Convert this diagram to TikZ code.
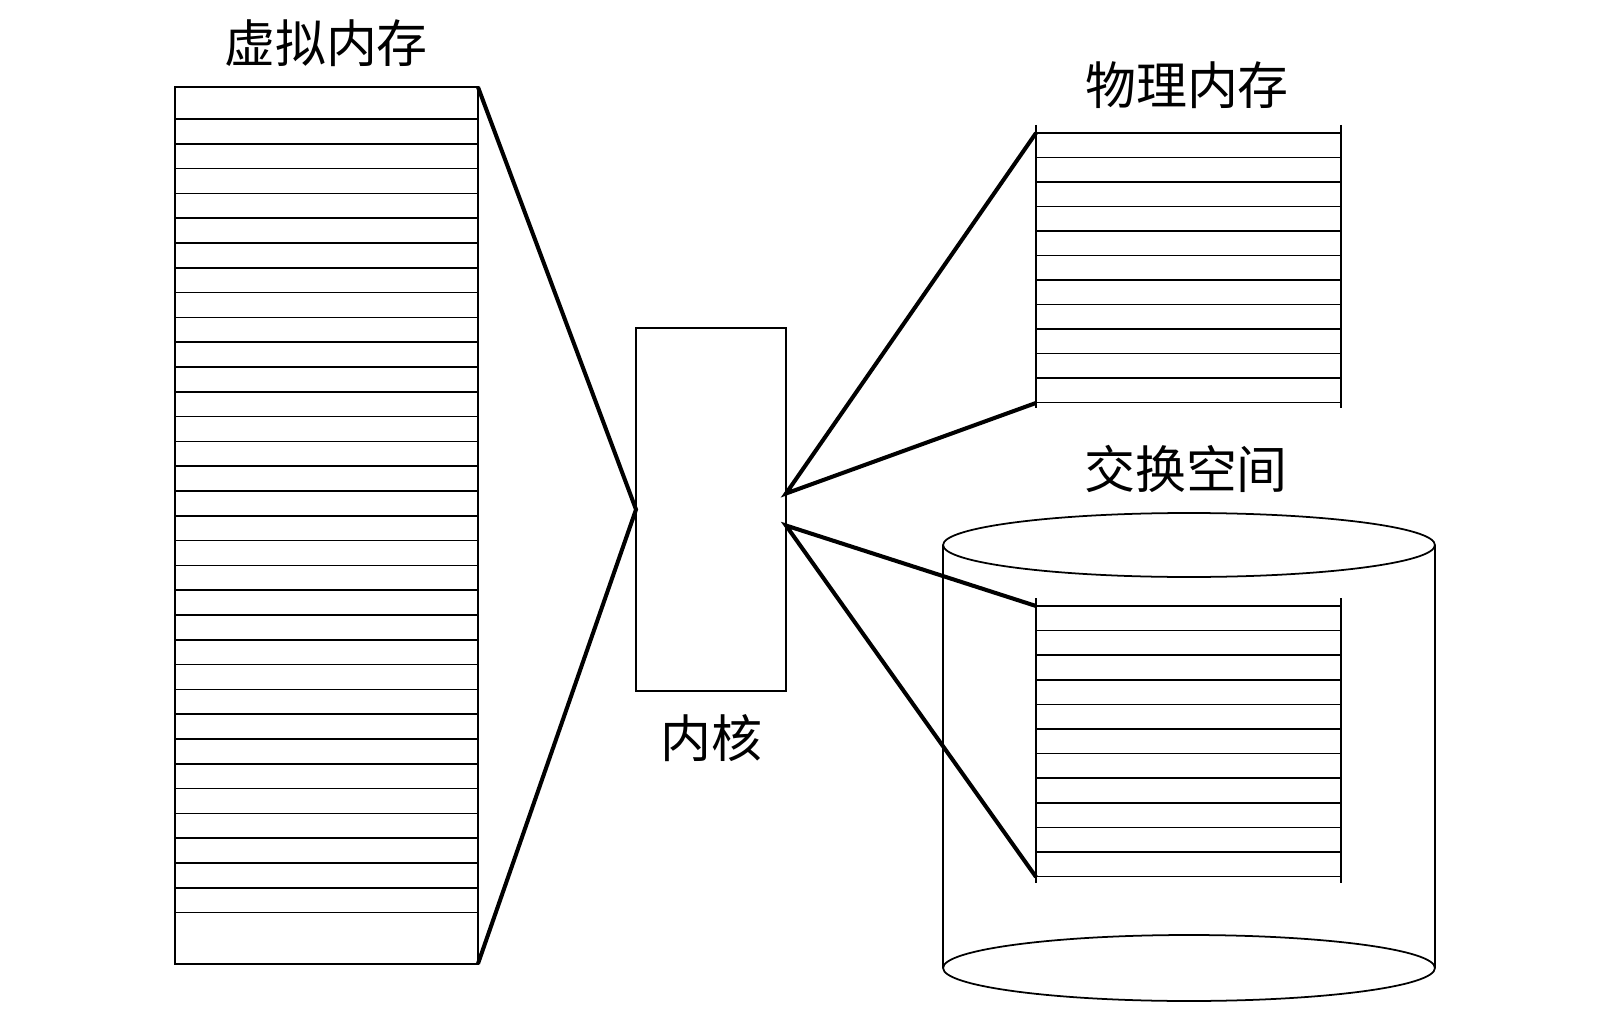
\documentclass[tikz,border=0pt]{standalone}
\usepackage{fontspec}
\newfontfamily\cjk{Noto Sans CJK SC}
\usetikzlibrary{positioning}
\tikzset{mem/.style={draw,line width=1.2pt,outer sep=0pt,inner sep=0pt,minimum width=6.06cm}}
\tikzset{slot/.style={line width=1pt}}
\tikzset{link/.style={line width=2.3pt,line join=miter}}
\tikzset{lbl/.style={font=\cjk\fontsize{29}{29}\selectfont,inner sep=0pt}}

\begin{document}
\begin{tikzpicture}[x=0.02cm,y=-0.02cm]
        \useasboundingbox (0,0) rectangle (1598,1020);
        \node[mem,minimum height=17.54cm,anchor=north west](vmem) at (175,87){};
        \foreach \i in {0,...,32}
          \draw[slot] (175,{119+24.8*\i}) -- (478,{119+24.8*\i});
        \node[mem,minimum width=3cm,minimum height=7.26cm](kernel) at (711,509.5){};
        \node[mem,draw=none,minimum width=6.1cm,minimum height=5.4cm,anchor=north west](phys) at (1036,133){};
        \foreach \i in {0,...,11}
          \draw[slot] (1036,{133+24.5*\i}) -- (1341,{133+24.5*\i});
        \draw[slot] (1036,125) -- (1036,408) (1341,125) -- (1341,408);
        \draw[line width=1pt] (1189,545) ellipse [x radius=4.92cm,y radius=0.64cm];
        \draw[line width=1pt] (1189,968) ellipse [x radius=4.92cm,y radius=0.66cm];
        \draw[line width=1pt] (943,545) -- (943,968) (1435,545) -- (1435,968);
        \node[mem,draw=none,minimum width=6.1cm,minimum height=5.42cm,anchor=north west](swap) at (1036,606){};
        \foreach \i in {0,...,11}
          \draw[slot] (1036,{606+24.6*\i}) -- (1341,{606+24.6*\i});
        \draw[slot] (1036,598) -- (1036,883) (1341,598) -- (1341,883);
        \coordinate(kup) at ([yshift=0.32cm]kernel.east);
        \coordinate(kdn) at ([yshift=-0.32cm]kernel.east);
        \draw[link] (vmem.north east) -- (kernel.west) -- (vmem.south east);
        \draw[link] (phys.north west) -- (kup) -- (phys.south west);
        \draw[link] (swap.north west) -- (kdn) -- (swap.south west);
        \node[lbl](vlbl) at (326,43){虚拟内存};
        \node[lbl](plbl) at (1187,85){物理内存};
        \node[lbl](slbl) at (1186,469){交换空间};
        \node[lbl](klbl) at (711,738){内核};
      \end{tikzpicture}
\end{document}
